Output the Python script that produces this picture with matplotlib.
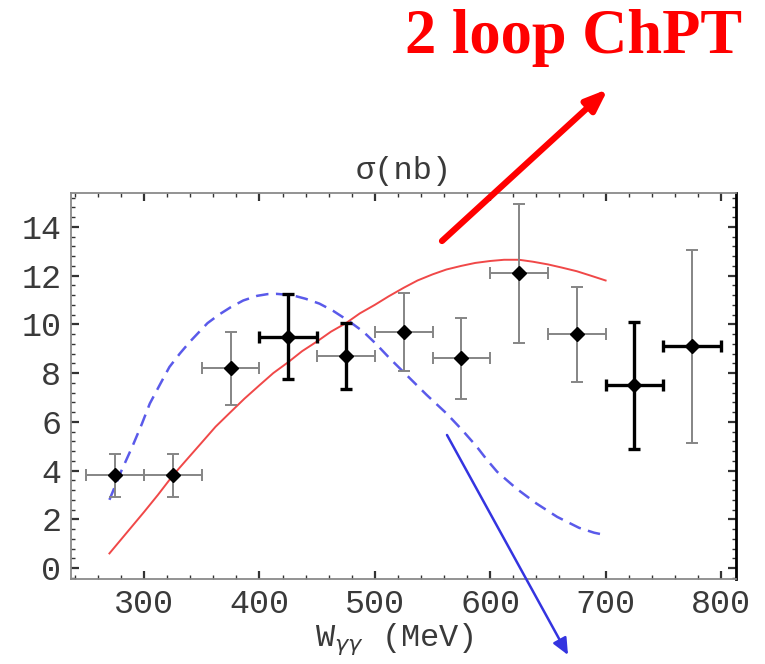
import matplotlib
matplotlib.use("Agg")
import matplotlib.pyplot as plt
from matplotlib.ticker import MultipleLocator, AutoMinorLocator

# Measured cross section (W in MeV, sigma in nb)
W_data = [275, 325, 375, 425, 475, 525, 575, 625, 675, 725, 775]
sigma_data = [3.8, 3.8, 8.2, 9.5, 8.7, 9.7, 8.6, 12.1, 9.6, 7.5, 9.1]
sigma_err = [0.9, 0.9, 1.5, 1.75, 1.35, 1.6, 1.65, 2.85, 1.95, 2.6, 3.95]
W_halfbin = [25, 25, 25, 25, 25, 25, 25, 25, 25, 25, 25]

# Two-loop ChPT prediction
W_chpt = [270, 285, 300, 312, 325, 337, 350, 362, 375, 387, 400, 412, 425,
          437, 450, 462, 475, 487, 500, 512, 525, 537, 550, 562, 575, 587,
          600, 612, 625, 637, 650, 662, 675, 687, 700]
sigma_chpt = [0.6, 1.45, 2.3, 3.0, 3.8, 4.45, 5.15, 5.8, 6.4, 6.95, 7.5,
              8.0, 8.45, 8.9, 9.3, 9.7, 10.05, 10.45, 10.8, 11.15, 11.5,
              11.8, 12.05, 12.25, 12.4, 12.52, 12.6, 12.65, 12.65, 12.57,
              12.46, 12.33, 12.18, 12.0, 11.8]

# Comparison model (dashed)
W_model = [270, 280, 290, 298, 305, 314, 322, 331, 340, 348, 355, 365, 375,
           386, 398, 407, 415, 428, 440, 452, 464, 477, 490, 501, 513, 529,
           545, 562, 575, 588, 597, 606, 623, 640, 658, 677, 690, 700]
sigma_model = [2.8, 3.95, 5.0, 5.9, 6.75, 7.55, 8.25, 8.8, 9.3, 9.7, 10.05,
               10.4, 10.7, 10.98, 11.17, 11.24, 11.25, 11.2, 11.05, 10.85,
               10.55, 10.15, 9.7, 9.2, 8.6, 7.85, 7.1, 6.35, 5.7, 5.0, 4.45,
               3.95, 3.25, 2.65, 2.1, 1.65, 1.45, 1.35]

# Error-bar emphasis per point: True -> heavy black bar
heavy_v = [False, False, False, True, True, False, False, False, False, True, False]
heavy_h = [False, False, False, True, False, False, False, False, False, True, True]

fig = plt.figure(figsize=(7.65, 6.64), dpi=100)
ax = fig.add_axes([71 / 765, 85 / 664, 665 / 765, 386 / 664])

ax.plot(W_model, sigma_model, color="#5a5aea", lw=1.8, dashes=(5, 3), zorder=2)
ax.plot(W_chpt, sigma_chpt, color="#f04848", lw=1.4, zorder=2)

for i in range(len(W_data)):
    cv, lv = ("black", 2.4) if heavy_v[i] else ("#858585", 1.4)
    ch, lh = ("black", 2.4) if heavy_h[i] else ("#858585", 1.4)
    ax.errorbar(W_data[i], sigma_data[i], yerr=sigma_err[i], fmt="none",
                ecolor=cv, elinewidth=lv, capsize=4.5, capthick=lv, zorder=3)
    ax.errorbar(W_data[i], sigma_data[i], xerr=W_halfbin[i], fmt="none",
                ecolor=ch, elinewidth=lh, capsize=4, capthick=lh, zorder=3)
ax.plot(W_data, sigma_data, "D", color="black", markersize=7.5, zorder=4)

ax.set_xlim(236.7, 813)
ax.set_ylim(-0.45, 15.39)
ax.xaxis.set_major_locator(MultipleLocator(100))
ax.xaxis.set_minor_locator(AutoMinorLocator(5))
ax.yaxis.set_major_locator(MultipleLocator(2))
ax.yaxis.set_minor_locator(AutoMinorLocator(5))

ax.tick_params(which="both", direction="in", top=True, right=True,
               colors="#333333", labelcolor="#3a3a3a")
ax.tick_params(which="major", length=6, width=1.6, pad=7)
ax.tick_params(which="minor", length=3, width=1.0)
for lab in ax.get_xticklabels() + ax.get_yticklabels():
    lab.set_fontfamily("Liberation Mono")
    lab.set_fontsize(24)

for side in ("left", "bottom", "top"):
    ax.spines[side].set_color("#8a8a8a")
    ax.spines[side].set_linewidth(1.3)
ax.spines["right"].set_color("black")
ax.spines["right"].set_linewidth(2.0)

ax.set_title("σ(nb)", fontfamily="Liberation Mono", fontsize=23,
             color="#3a3a3a", pad=10)
fig.text(394 / 765, 1 - 639 / 664, r"W$_{\gamma\gamma}$ (MeV)",
         fontfamily="Liberation Mono", fontsize=23, color="#3a3a3a",
         ha="center", va="center")

# Callout label and arrows
fig.text(405, 611, "2 loop ChPT", transform=None, color="red",
         fontfamily="Liberation Serif", fontweight="bold", fontsize=45,
         ha="left", va="baseline")
ax.annotate("", xy=(608, 664 - 89), xycoords="figure pixels",
            xytext=(442, 664 - 241), textcoords="figure pixels",
            arrowprops=dict(arrowstyle="-|>,head_length=1.3,head_width=0.5",
                            color="red", lw=4.5, shrinkA=0, shrinkB=0),
            annotation_clip=False)
ax.annotate("", xy=(568, 664 - 655), xycoords="figure pixels",
            xytext=(447, 664 - 435), textcoords="figure pixels",
            arrowprops=dict(arrowstyle="-|>,head_length=1.0,head_width=0.45",
                            color="#3434e0", lw=1.8, shrinkA=0, shrinkB=0),
            annotation_clip=False)

fig.savefig("out.png", dpi=100)
